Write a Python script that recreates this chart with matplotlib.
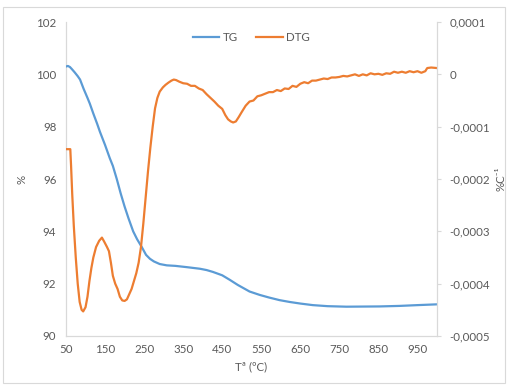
import matplotlib
matplotlib.use("Agg")
import matplotlib.pyplot as plt
from matplotlib.patches import Rectangle
from matplotlib.ticker import FuncFormatter

plt.rcParams['font.family'] = ['Lato', 'DejaVu Sans']

# ---- data ----
tg_t = [50, 55, 60, 65, 72, 80, 86, 95, 105, 111, 120, 130, 137, 150, 162, 170, 180,
        190, 200, 210, 222, 232, 244, 255, 265, 275, 290, 308, 330, 360, 393, 410,
        426, 450, 469, 490, 520, 546, 570, 597, 623, 650, 682, 720, 768, 853, 904,
        950, 1000]
tg_v = [100.3, 100.32, 100.28, 100.2, 100.08, 99.93, 99.8, 99.45, 99.1, 98.88, 98.5,
        98.1, 97.8, 97.3, 96.8, 96.5, 96.0, 95.45, 94.95, 94.5, 94.0, 93.7, 93.4, 93.1,
        92.95, 92.85, 92.75, 92.7, 92.68, 92.63, 92.57, 92.52, 92.45, 92.32, 92.15,
        91.95, 91.7, 91.57, 91.47, 91.37, 91.3, 91.24, 91.18, 91.14, 91.12, 91.13,
        91.15, 91.18, 91.21]

dtg_t = [50, 56, 61, 63, 66, 70, 75, 80, 85, 90, 94, 100, 105, 110, 115, 120, 127, 135,
         142, 148, 155, 160, 165, 170, 176, 182, 188, 194, 200, 206, 212, 218, 224, 230,
         236, 242, 248, 254, 260, 266, 272, 278, 284, 290, 298, 305, 312, 320, 326, 332,
         340, 350, 360, 370, 380, 390, 400, 410, 420, 430, 440, 450, 458, 465, 472, 478,
         485, 492, 500, 510, 520, 530, 540, 550, 560, 570, 580, 590, 600, 610, 620, 630,
         640, 650, 660, 670, 680, 690, 700, 710, 720, 730, 740, 750, 760, 770, 780, 790,
         800, 810, 820, 830, 840, 850, 860, 870, 880, 890, 900, 910, 920, 930, 940, 950,
         960, 970, 975, 985, 1000]
# DTG values in units of 1e-4 %/ºC
dtg_v = [-1.43, -1.43, -1.43, -1.75, -2.3, -2.9, -3.5, -4.0, -4.35, -4.5, -4.53, -4.45,
         -4.25, -3.95, -3.7, -3.5, -3.3, -3.18, -3.12, -3.2, -3.3, -3.38, -3.6, -3.85,
         -4.0, -4.1, -4.25, -4.32, -4.33, -4.3, -4.2, -4.1, -3.95, -3.8, -3.6, -3.3,
         -2.85, -2.35, -1.85, -1.4, -1.0, -0.65, -0.45, -0.33, -0.25, -0.2, -0.16, -0.12,
         -0.1, -0.11, -0.14, -0.17, -0.18, -0.22, -0.22, -0.27, -0.3, -0.38, -0.45,
         -0.52, -0.6, -0.66, -0.78, -0.86, -0.9, -0.92, -0.9, -0.82, -0.72, -0.6, -0.52,
         -0.5, -0.42, -0.4, -0.37, -0.34, -0.34, -0.3, -0.32, -0.27, -0.28, -0.22, -0.24,
         -0.18, -0.15, -0.17, -0.12, -0.12, -0.1, -0.08, -0.09, -0.06, -0.06, -0.05,
         -0.03, -0.04, -0.02, 0.0, -0.03, 0.0, -0.02, 0.02, 0.0, 0.01, -0.01, 0.02, 0.01,
         0.05, 0.03, 0.05, 0.03, 0.06, 0.04, 0.06, 0.03, 0.06, 0.12, 0.13, 0.12]

x_ticks = [50, 150, 250, 350, 450, 550, 650, 750, 850, 950]
y_ticks = [90, 92, 94, 96, 98, 100, 102]
y2_ticks = [-0.0005, -0.0004, -0.0003, -0.0002, -0.0001, 0, 0.0001]

BLUE = '#5B9BD5'
ORANGE = '#ED7D31'
GRAY = '#595959'
SPINE = '#D9D9D9'
FS = 8.3

fig = plt.figure(figsize=(5.09, 3.88), dpi=100)
fig.patches.append(Rectangle((3 / 509, 1 - 383 / 388), 502 / 509, 376 / 388,
                             transform=fig.transFigure, fill=False,
                             edgecolor='#D9D9D9', linewidth=0.8))

ax = fig.add_axes([66 / 509, 1 - 336 / 388, (437 - 66) / 509, (336 - 22) / 388])
ax2 = ax.twinx()

l1, = ax.plot(tg_t, tg_v, color=BLUE, lw=1.6, label='TG', zorder=3)
l2, = ax2.plot(dtg_t, [v * 1e-4 for v in dtg_v], color=ORANGE, lw=1.6, label='DTG')

ax.set_xlim(50, 1000)
ax.set_ylim(90, 102)
ax2.set_ylim(-0.0005, 0.0001)
ax.set_xticks(x_ticks)
ax.set_yticks(y_ticks)
ax2.set_yticks(y2_ticks)


def comma_fmt(v, pos):
    if abs(v) < 1e-12:
        return '0'
    return ('%.4f' % v).replace('.', ',')


ax2.yaxis.set_major_formatter(FuncFormatter(comma_fmt))

for a in (ax, ax2):
    a.spines['top'].set_visible(False)
    for s in ('left', 'right', 'bottom'):
        a.spines[s].set_color(SPINE)
        a.spines[s].set_linewidth(0.9)
    a.tick_params(colors=GRAY, labelsize=FS)
ax.tick_params(axis='y', length=0, pad=7)
ax.tick_params(axis='x', length=0, pad=6)
ax2.tick_params(axis='y', length=3, color=SPINE, pad=6)
ax2.spines['left'].set_visible(False)
ax2.spines['bottom'].set_visible(False)
ax.spines['right'].set_visible(False)

ax.set_xlabel('Tª (ºC)', color=GRAY, fontsize=FS, labelpad=4)
ax.set_ylabel('%', color=GRAY, fontsize=FS, labelpad=6)
ax2.set_ylabel('%C⁻¹', color=GRAY, fontsize=FS, labelpad=4)

ax.legend([l1, l2], ['TG', 'DTG'], loc='upper center', bbox_to_anchor=(0.5, 1.0),
          ncol=2, frameon=False, fontsize=FS, labelcolor=GRAY, handlelength=2.3,
          columnspacing=1.6, handletextpad=0.3)

fig.savefig('out.png', dpi=100)
